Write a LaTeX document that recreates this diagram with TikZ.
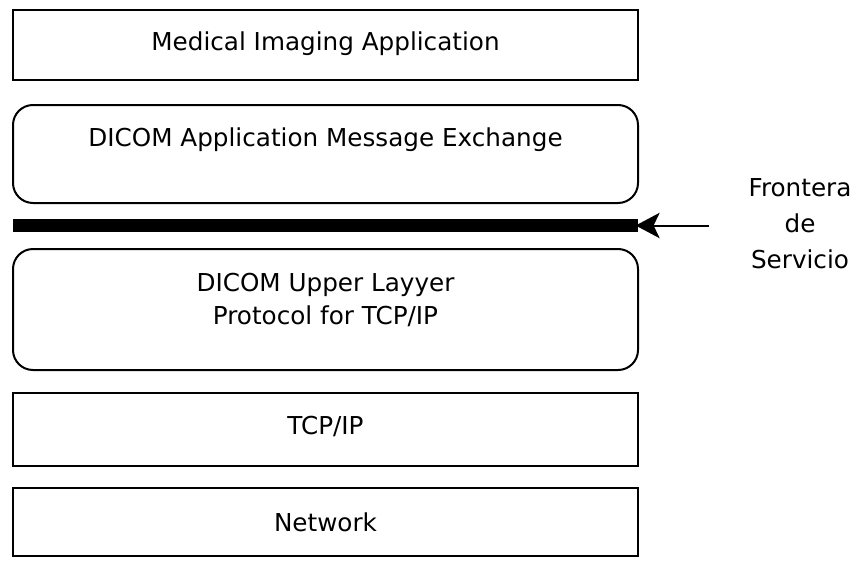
\documentclass[tikz,border=0pt]{standalone}
\usepackage{fontspec}
\setmainfont{DejaVu Sans}
\usetikzlibrary{arrows.meta}
\begin{document}
\begin{tikzpicture}[x=0.75pt,y=-0.75pt,
  every node/.style={font=\fontsize{18.5}{27}\selectfont},
  layer/.style={draw=black, line width=1.5pt, minimum width=468.75pt, inner sep=0pt},
  roundlayer/.style={layer, rounded corners=15pt},
  label/.style={inner sep=0pt, align=center}]
  % canvas
  \fill[white] (0,0) rectangle (862,560);
  \useasboundingbox (0,0) rectangle (862,560);

  % protocol stack
  \node[layer, minimum height=52.5pt] (app) at (325.5,45) {};
  \node[label] (appT) at (325.5,44) {Medical Imaging Application};

  \node[roundlayer, minimum height=73.5pt] (msg) at (325.5,154) {};
  \node[label] (msgT) at (325.5,140) {DICOM Application Message Exchange};

  \node[fill=black, inner sep=0pt, minimum width=468.75pt, minimum height=9.75pt] (bar) at (325.5,225.5) {};

  \node[roundlayer, minimum height=90.75pt] (ul) at (325.5,309.5) {};
  \node[label, font=\fontsize{18.5}{24.75}\selectfont] (ulT) at (325.5,299.5) {DICOM Upper Layyer\\Protocol for TCP/IP};

  \node[layer, minimum height=54.75pt] (tcp) at (325.5,429.5) {};
  \node[label] (tcpT) at (325.5,426) {TCP/IP};

  \node[layer, minimum height=51pt] (net) at (325.5,522) {};
  \node[label] (netT) at (325.5,522) {Network};

  % service boundary marker
  \node[label] (front) at (800,224) {Frontera\\de\\Servicio};
  \coordinate (arrS) at (709,225.5);
  \draw[line width=1.5pt, -{Stealth[length=18pt,width=19pt,inset=4.5pt]}, shorten >=-2pt] (arrS) -- (bar.east);
\end{tikzpicture}
\end{document}
